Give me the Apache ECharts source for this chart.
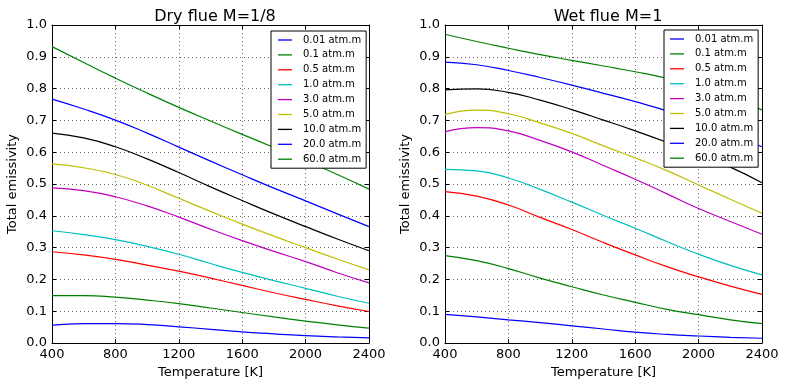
<!DOCTYPE html>
<html>
<head>
<meta charset="utf-8">
<script src="https://cdn.jsdelivr.net/npm/echarts@6/dist/echarts.min.js"></script>
<style>
html,body{margin:0;padding:0;background:#fff;}
#chart{width:787px;height:387px;}
</style>
</head>
<body>
<div id="chart"></div>
<script>
// Temperatures [K]
const temps = [400, 600, 800, 1000, 1200, 1400, 1600, 1800, 2000, 2200, 2400];
const pathLabels = ['0.01 atm.m', '0.1 atm.m', '0.5 atm.m', '1.0 atm.m', '3.0 atm.m', '5.0 atm.m', '10.0 atm.m', '20.0 atm.m', '60.0 atm.m'];
const xTicks = [400, 800, 1200, 1600, 2000, 2400];
const yTicks = [0.0, 0.1, 0.2, 0.3, 0.4, 0.5, 0.6, 0.7, 0.8, 0.9, 1.0];
const titles = ['Dry flue M=1/8', 'Wet flue M=1'];

// Dry flue M=1/8
const dry_001 = [0.056, 0.061, 0.061, 0.058, 0.051, 0.043, 0.035, 0.029, 0.023, 0.019, 0.016];
const dry_01  = [0.149, 0.149, 0.144, 0.135, 0.124, 0.110, 0.096, 0.082, 0.069, 0.057, 0.047];
const dry_05  = [0.287, 0.277, 0.263, 0.245, 0.226, 0.204, 0.181, 0.158, 0.137, 0.117, 0.099];
const dry_1   = [0.353, 0.341, 0.325, 0.304, 0.279, 0.250, 0.222, 0.196, 0.172, 0.147, 0.125];
const dry_3   = [0.488, 0.479, 0.460, 0.431, 0.396, 0.358, 0.322, 0.288, 0.256, 0.221, 0.189];
const dry_5   = [0.563, 0.551, 0.530, 0.496, 0.455, 0.414, 0.374, 0.336, 0.300, 0.264, 0.230];
const dry_10  = [0.660, 0.645, 0.617, 0.579, 0.536, 0.491, 0.448, 0.406, 0.366, 0.327, 0.290];
const dry_20  = [0.767, 0.736, 0.701, 0.660, 0.616, 0.572, 0.529, 0.487, 0.447, 0.406, 0.366];
const dry_60  = [0.932, 0.882, 0.833, 0.786, 0.741, 0.698, 0.656, 0.615, 0.573, 0.530, 0.484];

// Wet flue M=1
const wet_001 = [0.090, 0.082, 0.073, 0.064, 0.054, 0.044, 0.034, 0.027, 0.022, 0.018, 0.015];
const wet_01  = [0.275, 0.259, 0.234, 0.204, 0.177, 0.151, 0.128, 0.106, 0.089, 0.073, 0.061];
const wet_05  = [0.476, 0.462, 0.434, 0.395, 0.357, 0.316, 0.277, 0.240, 0.208, 0.179, 0.153];
const wet_1   = [0.546, 0.541, 0.519, 0.483, 0.443, 0.401, 0.361, 0.319, 0.279, 0.244, 0.214];
const wet_3   = [0.664, 0.677, 0.667, 0.637, 0.601, 0.558, 0.515, 0.469, 0.423, 0.382, 0.342];
const wet_5   = [0.718, 0.732, 0.721, 0.692, 0.659, 0.620, 0.582, 0.542, 0.497, 0.452, 0.408];
const wet_10  = [0.796, 0.799, 0.788, 0.764, 0.734, 0.701, 0.667, 0.631, 0.593, 0.553, 0.504];
const wet_20  = [0.883, 0.875, 0.857, 0.835, 0.811, 0.785, 0.759, 0.730, 0.695, 0.657, 0.617];
const wet_60  = [0.971, 0.948, 0.927, 0.907, 0.889, 0.871, 0.853, 0.832, 0.805, 0.771, 0.733];

const drySets = [dry_001, dry_01, dry_05, dry_1, dry_3, dry_5, dry_10, dry_20, dry_60];
const wetSets = [wet_001, wet_01, wet_05, wet_1, wet_3, wet_5, wet_10, wet_20, wet_60];

// matplotlib classic colour cycle
const palette = ['#0000ff', '#008000', '#ff0000', '#00bfbf', '#bf00bf', '#bfbf00', '#000000'];

const FONT = 'DejaVu Sans';
const grids = [
  {left: 52, right: 418, top: 25, bottom: 44},
  {left: 445, right: 25, top: 25, bottom: 44}
];

function mainX(i) {
  return {
    type: 'value', gridIndex: i, min: xTicks[0], max: xTicks[xTicks.length - 1], interval: 400,
    name: 'Temperature [K]', nameLocation: 'middle', nameGap: 22,
    nameTextStyle: {fontFamily: FONT, fontSize: 13, color: '#000'},
    axisLine: {show: true, onZero: false, lineStyle: {color: '#000', width: 1}},
    axisTick: {show: true, inside: true, length: 4, lineStyle: {color: '#000'}},
    axisLabel: {fontFamily: FONT, fontSize: 13, color: '#000', margin: 5, formatter: v => String(v)},
    splitLine: {show: true, lineStyle: {color: '#666', type: [1, 3], width: 1}}
  };
}
function topX(i) {
  return {
    type: 'value', gridIndex: i, position: 'top', min: xTicks[0], max: xTicks[xTicks.length - 1], interval: 400,
    axisLine: {show: true, onZero: false, lineStyle: {color: '#000', width: 1}},
    axisTick: {show: true, inside: true, length: 4, lineStyle: {color: '#000'}},
    axisLabel: {show: false}, splitLine: {show: false}
  };
}
function mainY(i) {
  return {
    type: 'value', gridIndex: i, min: yTicks[0], max: yTicks[yTicks.length - 1], interval: 0.1,
    name: 'Total emissivity', nameLocation: 'middle', nameGap: 33,
    nameTextStyle: {fontFamily: FONT, fontSize: 13, color: '#000'},
    axisLine: {show: true, onZero: false, lineStyle: {color: '#000', width: 1}},
    axisTick: {show: true, inside: true, length: 4, lineStyle: {color: '#000'}},
    axisLabel: {fontFamily: FONT, fontSize: 13, color: '#000', margin: 5, formatter: v => v.toFixed(1)},
    splitLine: {show: true, lineStyle: {color: '#666', type: [1, 3], width: 1}}
  };
}
function rightY(i) {
  return {
    type: 'value', gridIndex: i, position: 'right', min: yTicks[0], max: yTicks[yTicks.length - 1], interval: 0.1,
    axisLine: {show: true, onZero: false, lineStyle: {color: '#000', width: 1}},
    axisTick: {show: true, inside: true, length: 4, lineStyle: {color: '#000'}},
    axisLabel: {show: false}, splitLine: {show: false}
  };
}

const series = [];
[drySets, wetSets].forEach((sets, g) => {
  sets.forEach((vals, k) => {
    series.push({
      type: 'line', name: pathLabels[k], xAxisIndex: g, yAxisIndex: g,
      data: temps.map((t, j) => [t, vals[j]]),
      symbol: 'none', smooth: 0.5, silent: true,
      lineStyle: {width: 1.2, color: palette[k % palette.length]},
      itemStyle: {color: palette[k % palette.length]},
      z: 3
    });
  });
});

function legend(left, top, padLeft) {
  return {
    orient: 'vertical', left: left, top: top,
    data: pathLabels,
    icon: 'path://M0,0H14V1.3H0Z',
    symbolKeepAspect: true,
    backgroundColor: '#fff', borderColor: '#000', borderWidth: 1, borderRadius: 0,
    padding: [3, 5, 3, padLeft],
    itemWidth: 14, itemHeight: 12, itemGap: 2.9,
    selectedMode: false,
    textStyle: {fontFamily: FONT, fontSize: 10, color: '#000', lineHeight: 12, padding: [0, 0, 0, 6]}
  };
}

const option = {
  animation: false,
  backgroundColor: '#fff',
  title: [
    {text: titles[0], left: 210, top: 4, textAlign: 'center', textStyle: {fontFamily: FONT, fontSize: 16, fontWeight: 'normal', color: '#000'}},
    {text: titles[1], left: 603, top: 4, textAlign: 'center', textStyle: {fontFamily: FONT, fontSize: 16, fontWeight: 'normal', color: '#000'}}
  ],
  grid: grids,
  xAxis: [mainX(0), mainX(1), topX(0), topX(1)],
  yAxis: [mainY(0), mainY(1), rightY(0), rightY(1)],
  legend: [legend(271, 31, 7), legend(664, 30, 6)],
  series: series
};

const chart = echarts.init(document.getElementById('chart'), null, {renderer: 'canvas'});
chart.setOption(option);
</script>
</body>
</html>
